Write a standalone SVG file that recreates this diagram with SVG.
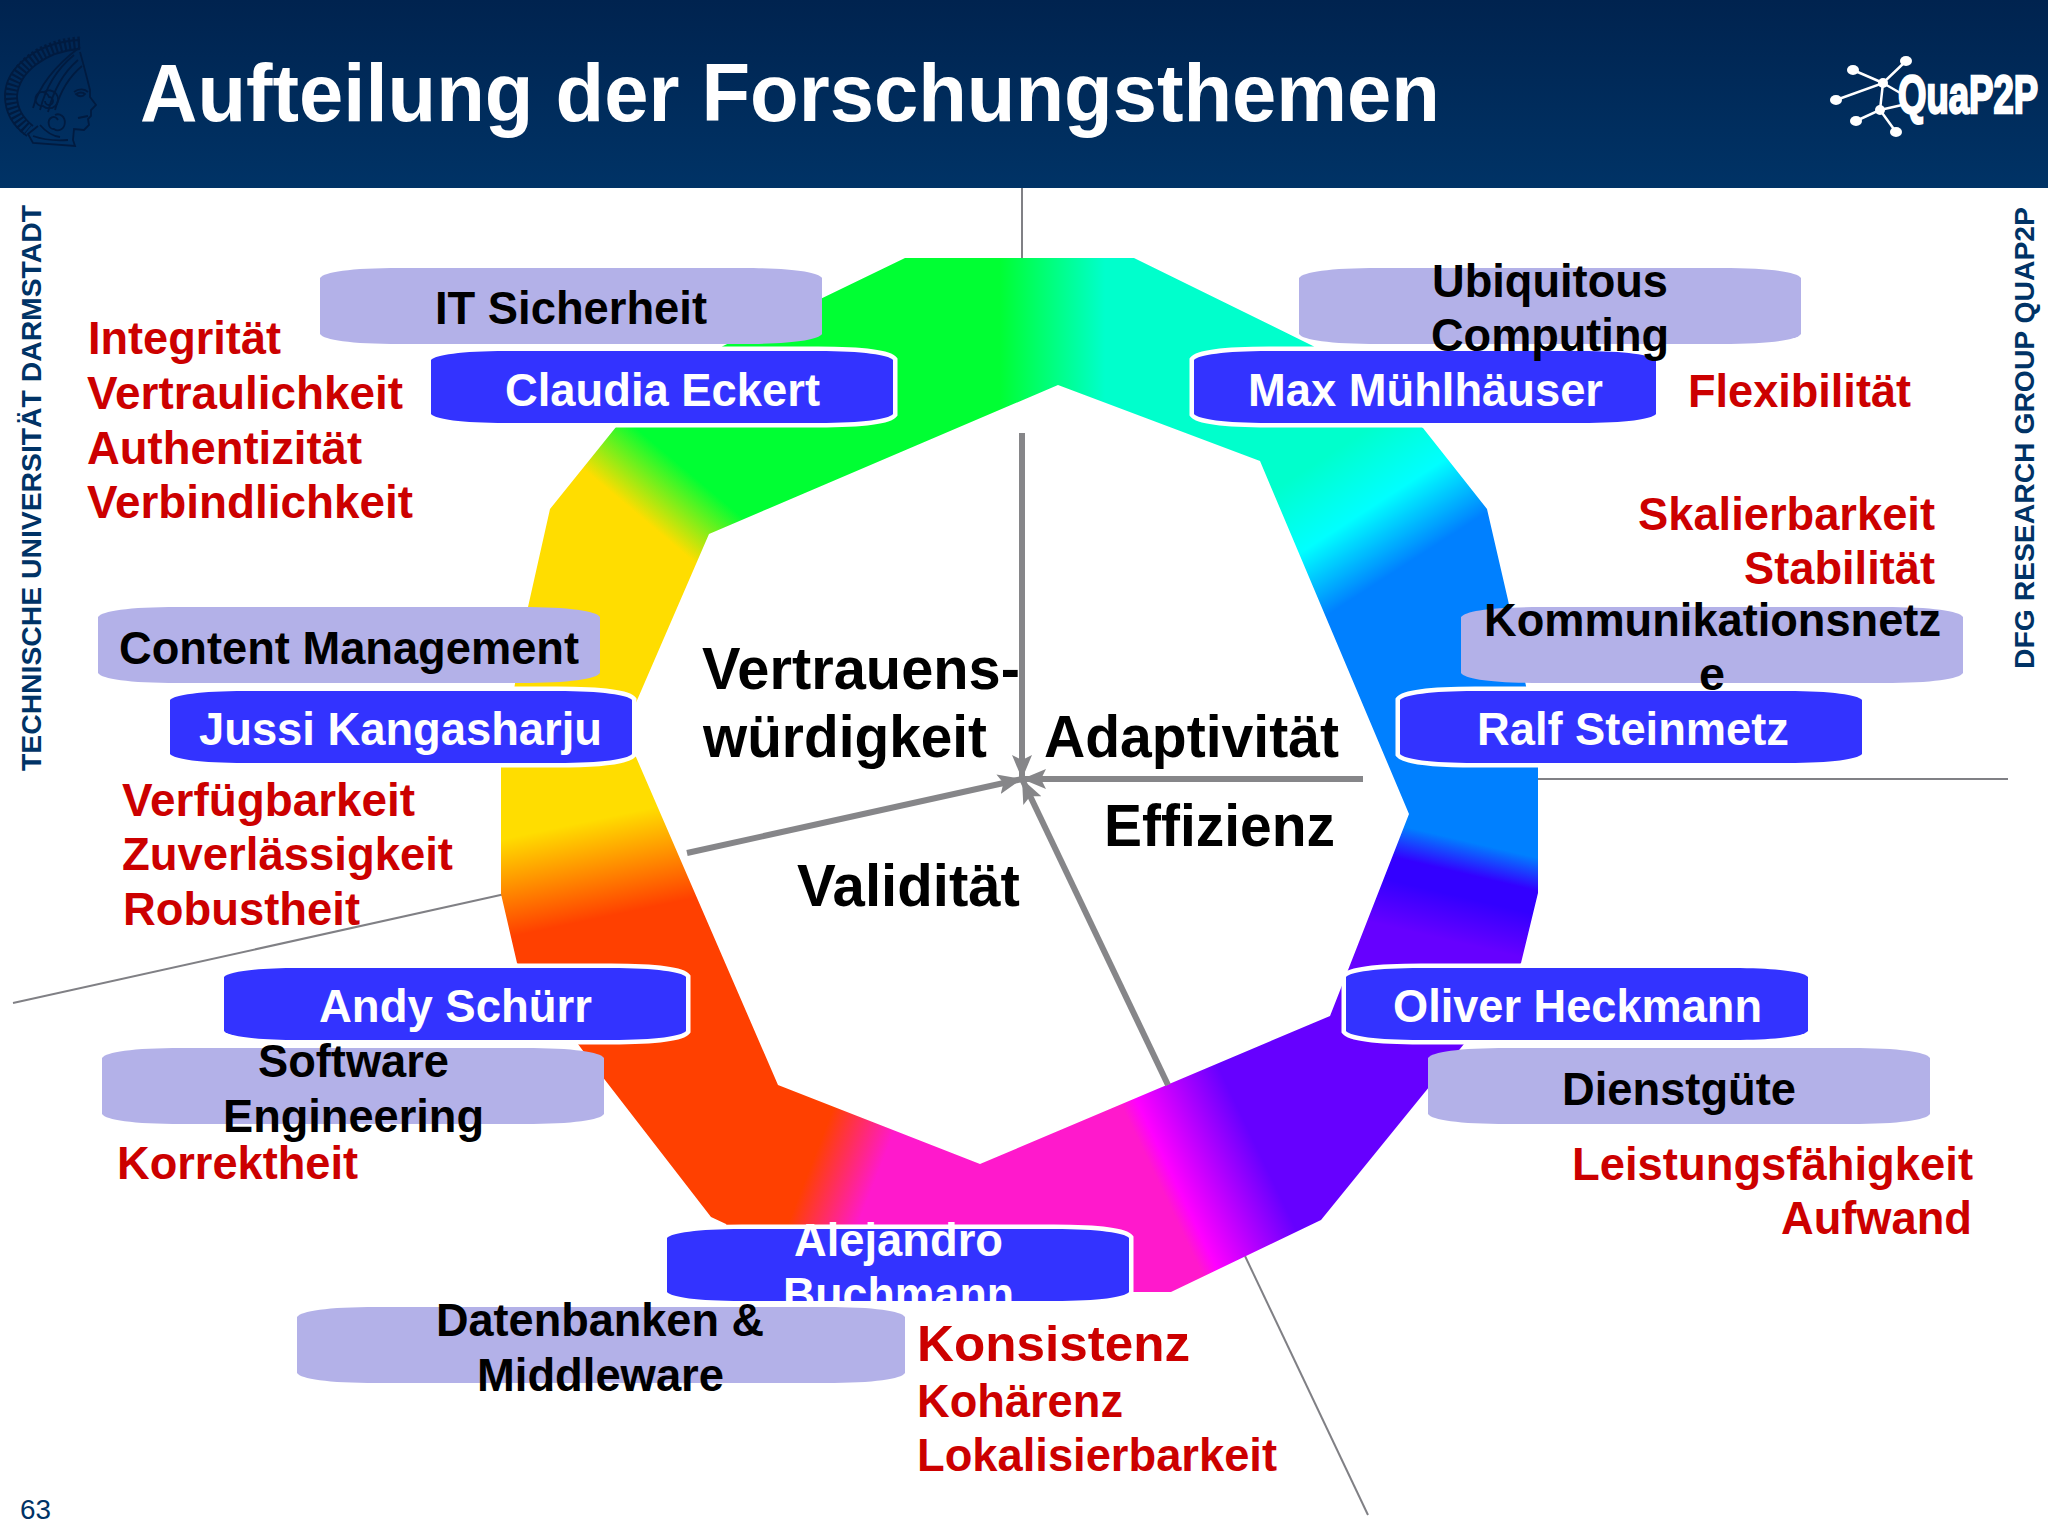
<svg xmlns="http://www.w3.org/2000/svg" width="2048" height="1536" viewBox="0 0 2048 1536">
<style>
text{font-family:"Liberation Sans",Arial,sans-serif;font-weight:700}
.t{font-size:46px;fill:#000}
.w{font-size:46px;fill:#fff}
.r{font-size:46px;fill:#cc0000}
.b{font-size:60px;fill:#000}
.side{font-size:28px;fill:#003366}
.lav{fill:#b3b1e8}
.blu{fill:#3333ff;stroke:#fff;stroke-width:9;paint-order:stroke}
.thin{stroke:#808085;stroke-width:2;fill:none}
.axis{stroke:#868689;stroke-width:6;fill:none;marker-end:url(#head)}
.hd{fill:none;stroke:#001b40;stroke-width:1.8}
.q{stroke:#fff;stroke-width:2.5;fill:none}
.sec{shape-rendering:crispEdges}
</style>
<defs>
<linearGradient id="hdr" x1="0" y1="0" x2="0" y2="1"><stop offset="0" stop-color="#00234f"/><stop offset="1" stop-color="#003366"/></linearGradient>
<linearGradient id="gA" gradientUnits="userSpaceOnUse" x1="587" y1="472" x2="629" y2="422"><stop offset="0" stop-color="#ffdd00"/><stop offset="1" stop-color="#00ff33"/></linearGradient>
<linearGradient id="gB" gradientUnits="userSpaceOnUse" x1="1000" y1="300" x2="1105" y2="300"><stop offset="0" stop-color="#00ff33"/><stop offset="1" stop-color="#00ffcc"/></linearGradient>
<linearGradient id="gC" gradientUnits="userSpaceOnUse" x1="1340" y1="447" x2="1413" y2="560"><stop offset="0" stop-color="#00ffcc"/><stop offset=".5" stop-color="#00ffff"/><stop offset="1" stop-color="#0080ff"/></linearGradient>
<linearGradient id="gD" gradientUnits="userSpaceOnUse" x1="1470" y1="842" x2="1447" y2="940"><stop offset="0" stop-color="#0080ff"/><stop offset=".32" stop-color="#3300ff"/><stop offset=".55" stop-color="#3300ff"/><stop offset="1" stop-color="#6600ff"/></linearGradient>
<linearGradient id="gE" gradientUnits="userSpaceOnUse" x1="1125" y1="1113" x2="1219" y2="1068"><stop offset="0" stop-color="#ff19cc"/><stop offset=".15" stop-color="#ff00ff"/><stop offset="1" stop-color="#6600ff"/></linearGradient>
<linearGradient id="gF" gradientUnits="userSpaceOnUse" x1="831" y1="1114" x2="892" y2="1138"><stop offset="0" stop-color="#ff4000"/><stop offset="1" stop-color="#ff19cc"/></linearGradient>
<linearGradient id="gG" gradientUnits="userSpaceOnUse" x1="570" y1="825" x2="590" y2="920"><stop offset="0" stop-color="#ffdd00"/><stop offset="1" stop-color="#ff4000"/></linearGradient>
<clipPath id="ringClip"><path clip-rule="evenodd" d="M905,258L1134,258L1313,346L1423,428L1487,509L1508,600L1526,686L1538,766L1538,893L1521,963L1464,1044L1321,1220L1171,1292L760,1292L726,1224L711,1217L605,1080L517,963L501,894L501,766L528,607L550,509L616,427L723,346Z M1058,385L709,534L622,735L636,757L778,1085L980,1164L1330,1016L1350,965L1409,814L1260,461Z"/></clipPath>
<path id="pl" d="M0,10C4,4 30,0 80,0L422,0C472,0 498,4 502,10L502,66C498,72 472,76 422,76L80,76C30,76 4,72 0,66Z"/>
<path id="plw" d="M0,10C4,4 30,0 80,0L528,0C578,0 604,4 608,10L608,66C604,72 578,76 528,76L80,76C30,76 4,72 0,66Z"/>
<path id="pb" d="M0,9C4,4 30,0 75,0L387,0C432,0 458,4 462,9L462,63C458,68 432,72 387,72L75,72C30,72 4,68 0,63Z"/>
<marker id="head" markerUnits="userSpaceOnUse" markerWidth="26" markerHeight="24" refX="24" refY="12" orient="auto"><path d="M24,12L0,2L5,12L0,22Z" fill="#868689"/></marker>
</defs>
<rect width="2048" height="1536" fill="#fff"/>
<g id="header">
<rect width="2048" height="188" fill="url(#hdr)"/>
<g id="crest">
<path d="M80,43C40,45 12,70 11,95C11,110 18,122 28,130" fill="none" stroke="#001b40" stroke-width="13" stroke-dasharray="2.2 2.4"/>
<path class="hd" d="M80,40C36,42 5,68 5,96C5,112 13,126 27,136M80,49C46,51 19,72 17,96C17,108 23,118 33,126"/>
<path class="hd" d="M80,52C84,66 87,78 90,90L90,97L96,105L91,110L91,116L88,119L89,125L84,130L74,129L73,140L75,146L33,143L28,134L38,126"/>
<path class="hd" d="M80,47C60,62 40,82 33,108M74,55C58,68 46,86 40,110M78,60C64,72 54,88 48,112M82,66C70,76 60,92 55,110"/>
<path class="hd" d="M44,92a9,9 0 1 1 -1,14a7,7 0 1 1 6,-9a4,4 0 1 1 -4,4M55,115a7,8 0 1 1 -1,14a5,6 0 1 1 4,-9M40,125C46,132 52,136 60,137M33,136C44,140 55,141 68,140"/>
<path class="hd" d="M74,92C79,88 85,89 88,92M76,94C79,92 83,92 85,94C83,97 79,97 76,94ZM78,118L88,116"/>
</g>
<text id="title" x="140" y="121" font-size="81" fill="#fff" textLength="1300" lengthAdjust="spacingAndGlyphs">Aufteilung der Forschungsthemen</text>
<g id="logo">
<path class="q" d="M1853,70L1883,83L1906,61M1836,100L1883,83L1880,110L1856,121M1880,110L1896,132M1883,83L1902,94M1880,110L1902,105"/>
<g fill="#fff"><ellipse cx="1853" cy="70" rx="6" ry="5"/><ellipse cx="1906" cy="61" rx="6" ry="5"/><ellipse cx="1836" cy="100" rx="6" ry="5"/><circle cx="1883" cy="83" r="5"/><circle cx="1880" cy="110" r="5"/><ellipse cx="1856" cy="121" rx="6" ry="5"/><ellipse cx="1896" cy="132" rx="6" ry="5"/></g>
<text transform="translate(1898,113) scale(.69,1)" font-size="53" fill="#fff" stroke="#fff" stroke-width="2.4">QuaP2P</text>
</g>
</g>
<g id="sidebars">
<text class="side" transform="translate(41,771) rotate(-90)" textLength="566" lengthAdjust="spacingAndGlyphs">TECHNISCHE UNIVERSITÄT DARMSTADT</text>
<text class="side" transform="translate(2034,669) rotate(-90)" textLength="462" lengthAdjust="spacingAndGlyphs">DFG RESEARCH GROUP QUAP2P</text>
<text id="page" x="20" y="1519" font-size="27" fill="#003366" style="font-weight:400" textLength="31" lengthAdjust="spacingAndGlyphs">63</text>
</g>
<g id="axes-thin">
<path class="thin" d="M1022,188L1022,262"/>
<path class="thin" d="M1534,779L2008,779"/>
<path class="thin" d="M13,1003L505,894"/>
<path class="thin" d="M1245,1256L1368,1515"/>
</g>
<g id="ring" clip-path="url(#ringClip)">
<polygon class="sec" fill="url(#gA)" points="1020,790 0,650 0,0 950,0"/>
<polygon class="sec" fill="url(#gB)" points="1020,790 950,0 1440,0"/>
<polygon class="sec" fill="url(#gC)" points="1020,790 1440,0 2048,0 2048,555"/>
<polygon class="sec" fill="url(#gD)" points="1020,790 2048,555 2048,1536 1814,1536"/>
<polygon class="sec" fill="url(#gE)" points="1020,790 1814,1536 1000,1536"/>
<polygon class="sec" fill="url(#gF)" points="1020,790 1000,1536 0,1536 0,1369"/>
<polygon class="sec" fill="url(#gG)" points="1020,790 0,1369 0,650"/>
</g>
<g id="connectors">
<path class="axis" d="M1022,433L1022,779"/>
<path class="axis" d="M1363,779L1022,779"/>
<path class="axis" d="M687,853L1022,779"/>
<path class="axis" d="M1168,1085L1022,779"/>
</g>
<g id="node-eckert"><use href="#pb" class="blu" x="431" y="351"/><text class="w" x="505" y="406" textLength="315" lengthAdjust="spacingAndGlyphs">Claudia Eckert</text></g>
<g id="node-muehlhaeuser"><use href="#pb" class="blu" x="1194" y="351"/><text class="w" x="1248" y="406" textLength="355" lengthAdjust="spacingAndGlyphs">Max Mühlhäuser</text></g>
<g id="node-kangasharju"><use href="#pb" class="blu" x="170" y="691"/><text class="w" x="199" y="745" textLength="403" lengthAdjust="spacingAndGlyphs">Jussi Kangasharju</text></g>
<g id="node-steinmetz"><use href="#pb" class="blu" x="1400" y="691"/><text class="w" x="1477" y="745" textLength="312" lengthAdjust="spacingAndGlyphs">Ralf Steinmetz</text></g>
<g id="node-schuerr"><use href="#pb" class="blu" x="224" y="968"/><text class="w" x="319" y="1022" textLength="273" lengthAdjust="spacingAndGlyphs">Andy Schürr</text></g>
<g id="node-heckmann"><use href="#pb" class="blu" x="1346" y="968"/><text class="w" x="1393" y="1022" textLength="369" lengthAdjust="spacingAndGlyphs">Oliver Heckmann</text></g>
<g id="node-buchmann"><use href="#pb" class="blu" x="667" y="1229"/><text class="w" x="794" y="1256" textLength="209" lengthAdjust="spacingAndGlyphs">Alejandro</text><text class="w" x="783" y="1310" textLength="231" lengthAdjust="spacingAndGlyphs">Buchmann</text></g>
<g id="topic-it"><use href="#pl" class="lav" x="320" y="268"/><text class="t" x="435" y="324" textLength="272" lengthAdjust="spacingAndGlyphs">IT Sicherheit</text></g>
<g id="topic-ubicomp"><use href="#pl" class="lav" x="1299" y="268"/><text class="t" x="1432" y="297" textLength="236" lengthAdjust="spacingAndGlyphs">Ubiquitous</text><text class="t" x="1431" y="351" textLength="238" lengthAdjust="spacingAndGlyphs">Computing</text></g>
<g id="topic-content"><use href="#pl" class="lav" x="98" y="607"/><text class="t" x="119" y="664" textLength="460" lengthAdjust="spacingAndGlyphs">Content Management</text></g>
<g id="topic-netze"><use href="#pl" class="lav" x="1461" y="607"/><text class="t" x="1484" y="636" textLength="457" lengthAdjust="spacingAndGlyphs">Kommunikationsnetz</text><text class="t" x="1699" y="690" textLength="26" lengthAdjust="spacingAndGlyphs">e</text></g>
<g id="topic-se"><use href="#pl" class="lav" x="102" y="1048"/><text class="t" x="258" y="1077" textLength="191" lengthAdjust="spacingAndGlyphs">Software</text><text class="t" x="223" y="1132" textLength="261" lengthAdjust="spacingAndGlyphs">Engineering</text></g>
<g id="topic-qos"><use href="#pl" class="lav" x="1428" y="1048"/><text class="t" x="1562" y="1105" textLength="234" lengthAdjust="spacingAndGlyphs">Dienstgüte</text></g>
<g id="topic-db"><use href="#plw" class="lav" x="297" y="1307"/><text class="t" x="436" y="1336" textLength="328" lengthAdjust="spacingAndGlyphs">Datenbanken &amp;</text><text class="t" x="477" y="1391" textLength="247" lengthAdjust="spacingAndGlyphs">Middleware</text></g>
<g id="qualities-security"><text class="r" x="88" y="354" textLength="193" lengthAdjust="spacingAndGlyphs">Integrität</text><text class="r" x="87" y="409" textLength="316" lengthAdjust="spacingAndGlyphs">Vertraulichkeit</text><text class="r" x="87" y="464" textLength="275" lengthAdjust="spacingAndGlyphs">Authentizität</text><text class="r" x="87" y="518" textLength="326" lengthAdjust="spacingAndGlyphs">Verbindlichkeit</text></g>
<g id="qualities-ubi"><text class="r" x="1688" y="407" textLength="223" lengthAdjust="spacingAndGlyphs">Flexibilität</text></g>
<g id="qualities-net"><text class="r" x="1638" y="530" textLength="297" lengthAdjust="spacingAndGlyphs">Skalierbarkeit</text><text class="r" x="1744" y="584" textLength="191" lengthAdjust="spacingAndGlyphs">Stabilität</text></g>
<g id="qualities-content"><text class="r" x="122" y="816" textLength="293" lengthAdjust="spacingAndGlyphs">Verfügbarkeit</text><text class="r" x="122" y="870" textLength="331" lengthAdjust="spacingAndGlyphs">Zuverlässigkeit</text><text class="r" x="123" y="925" textLength="237" lengthAdjust="spacingAndGlyphs">Robustheit</text></g>
<g id="qualities-se"><text class="r" x="117" y="1179" textLength="241" lengthAdjust="spacingAndGlyphs">Korrektheit</text></g>
<g id="qualities-qos"><text class="r" x="1572" y="1180" textLength="401" lengthAdjust="spacingAndGlyphs">Leistungsfähigkeit</text><text class="r" x="1781" y="1234" textLength="191" lengthAdjust="spacingAndGlyphs">Aufwand</text></g>
<g id="qualities-db"><text class="r" x="917" y="1361" style="font-size:50px" textLength="273" lengthAdjust="spacingAndGlyphs">Konsistenz</text><text class="r" x="917" y="1417" textLength="206" lengthAdjust="spacingAndGlyphs">Kohärenz</text><text class="r" x="917" y="1471" textLength="360" lengthAdjust="spacingAndGlyphs">Lokalisierbarkeit</text></g>
<g id="centre-labels"><text class="b" x="702" y="689" textLength="318" lengthAdjust="spacingAndGlyphs">Vertrauens-</text><text class="b" x="703" y="757" textLength="284" lengthAdjust="spacingAndGlyphs">würdigkeit</text><text class="b" x="1044" y="757" textLength="295" lengthAdjust="spacingAndGlyphs">Adaptivität</text><text class="b" x="1104" y="846" textLength="231" lengthAdjust="spacingAndGlyphs">Effizienz</text><text class="b" x="797" y="906" textLength="223" lengthAdjust="spacingAndGlyphs">Validität</text></g>
</svg>
